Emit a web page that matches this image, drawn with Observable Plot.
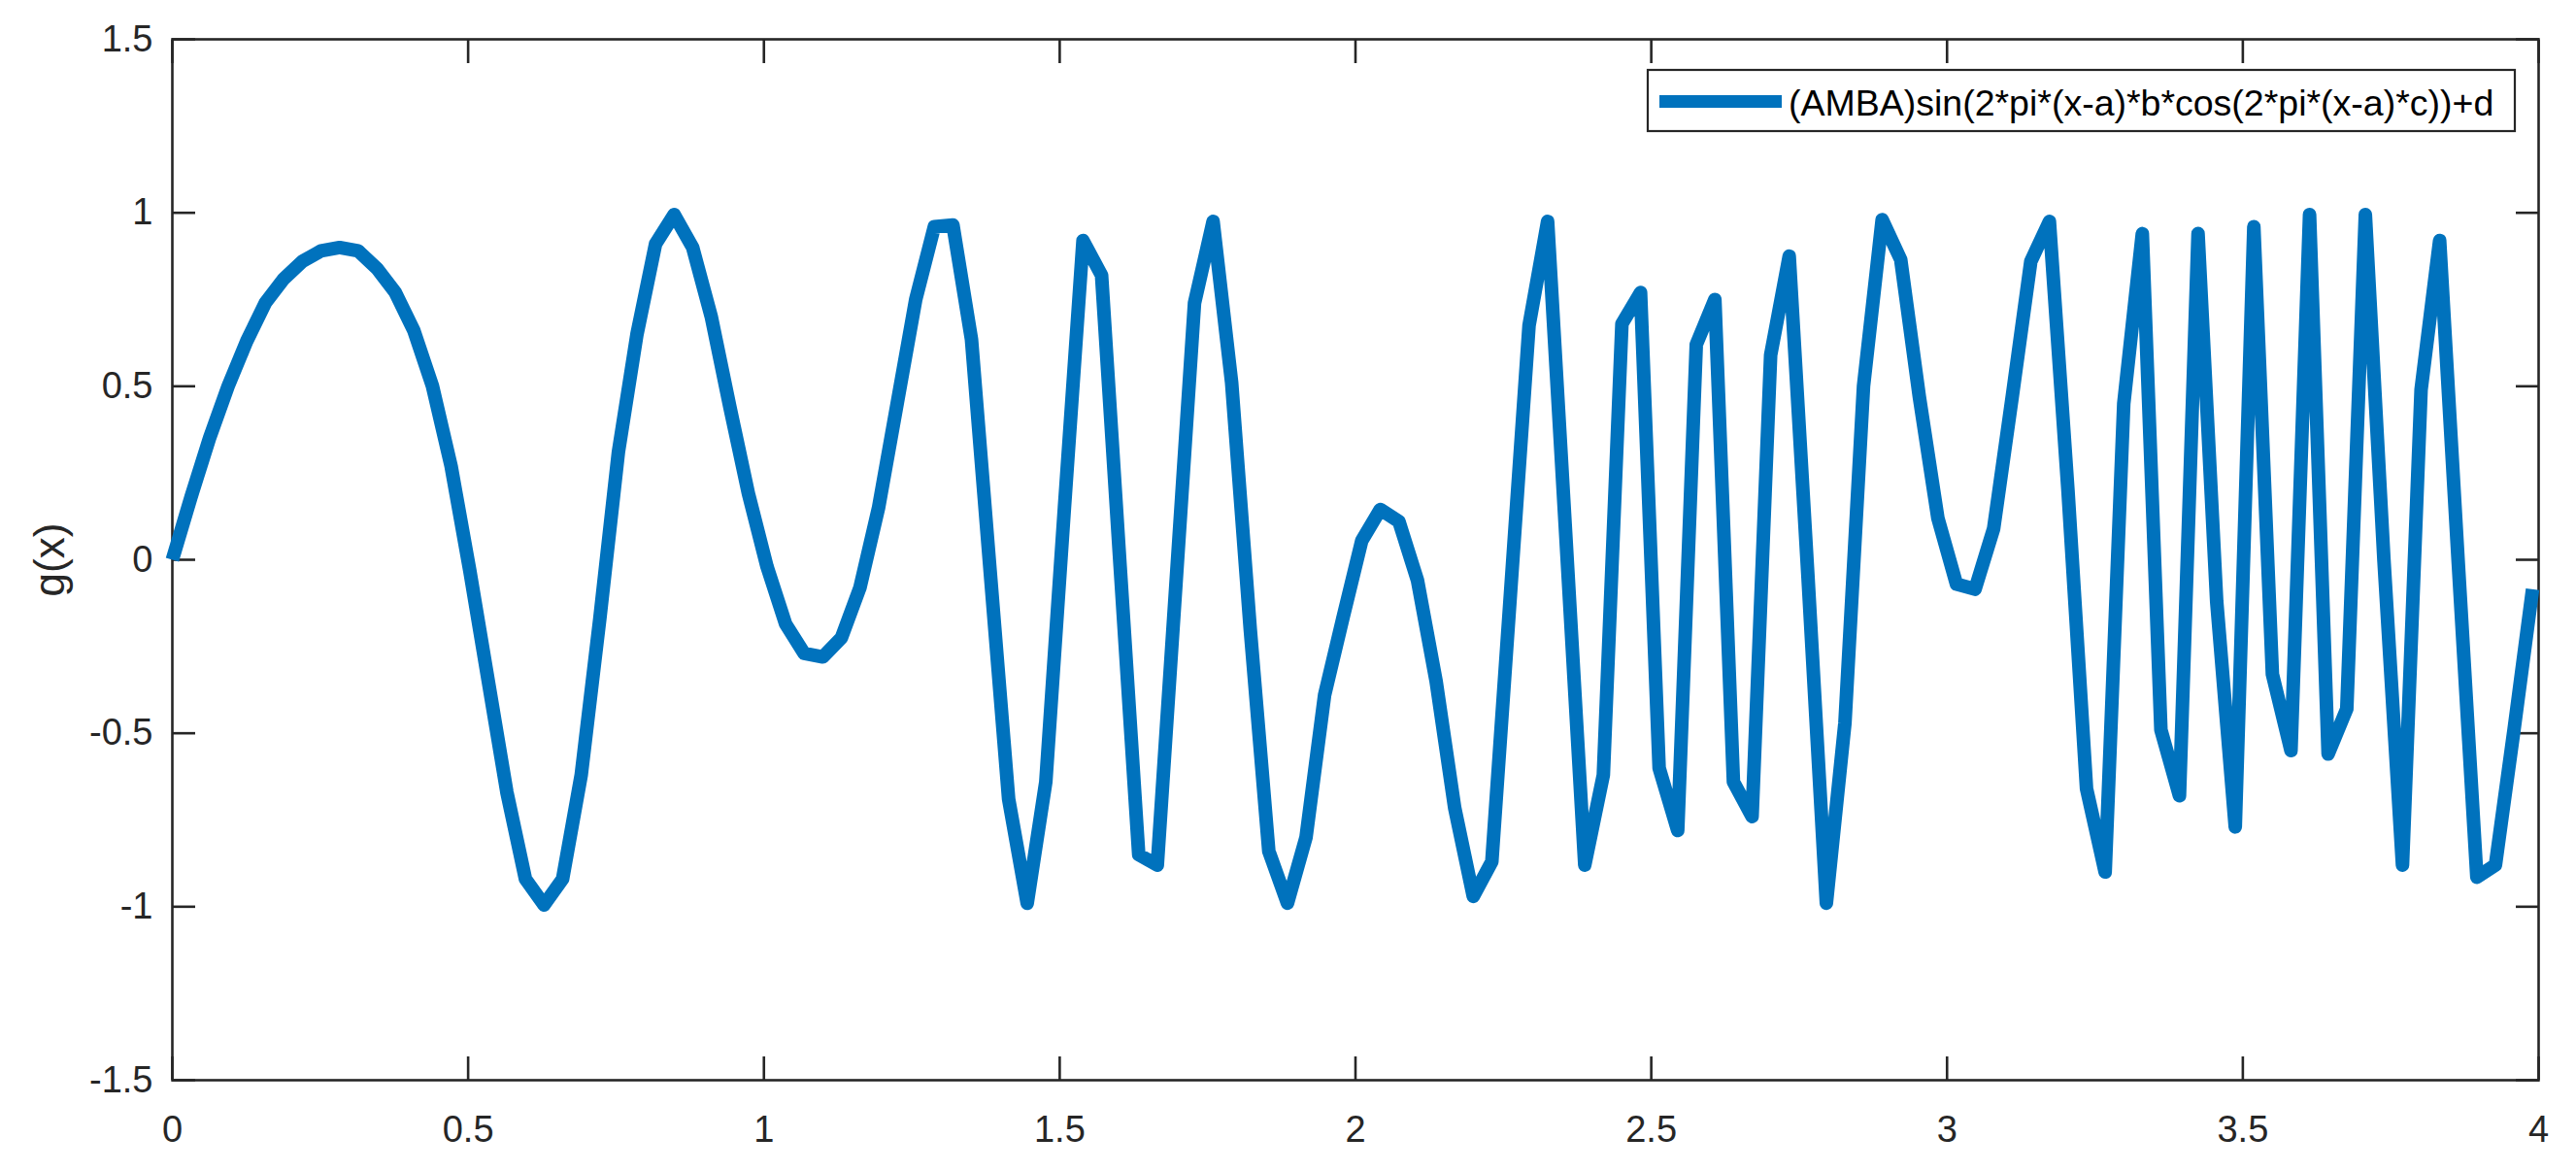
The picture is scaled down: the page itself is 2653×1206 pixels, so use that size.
<!DOCTYPE html>
<html>
<head>
<meta charset="utf-8">
<script src="https://cdn.jsdelivr.net/npm/d3@7"></script>
<script src="https://cdn.jsdelivr.net/npm/@observablehq/plot@0.6"></script>
<style>
  html, body { margin: 0; padding: 0; background: #ffffff; overflow: hidden; }
  #chart svg { display: block; }
</style>
</head>
<body>
<div id="chart"></div>
<script>
// sample positions (x)
const xs = [
  0, 0.0314, 0.0628, 0.0942, 0.1257, 0.1571, 0.1885, 0.2199, 0.2513, 0.2827,
  0.3142, 0.3456, 0.3770, 0.4084, 0.4398, 0.4712, 0.5027, 0.5341, 0.5655, 0.5969,
  0.6283, 0.6597, 0.6912, 0.7226, 0.7540, 0.7854, 0.8168, 0.8482, 0.8796, 0.9111,
  0.9425, 0.9739, 1.0053, 1.0367, 1.0681, 1.0996, 1.1310, 1.1624, 1.1938, 1.2252,
  1.2566, 1.2881, 1.3195, 1.3509, 1.3823, 1.4137, 1.4451, 1.4765, 1.5080, 1.5394,
  1.5708, 1.6022, 1.6336, 1.6650, 1.6965, 1.7279, 1.7593, 1.7907, 1.8221, 1.8535,
  1.8850, 1.9164, 1.9478, 1.9792, 2.0106, 2.0420, 2.0735, 2.1049, 2.1363, 2.1677,
  2.1991, 2.2305, 2.2619, 2.2934, 2.3248, 2.3562, 2.3876, 2.4190, 2.4504, 2.4819,
  2.5133, 2.5447, 2.5761, 2.6075, 2.6389, 2.6704, 2.7018, 2.7332, 2.7646, 2.7960,
  2.8274, 2.8588, 2.8903, 2.9217, 2.9531, 2.9845, 3.0159, 3.0473, 3.0788, 3.1102,
  3.1416, 3.1730, 3.2044, 3.2358, 3.2673, 3.2987, 3.3301, 3.3615, 3.3929, 3.4243,
  3.4558, 3.4872, 3.5186, 3.5500, 3.5814, 3.6128, 3.6442, 3.6757, 3.7071, 3.7385,
  3.7699, 3.8013, 3.8327, 3.8642, 3.8956, 3.9270, 3.9584, 3.9898
];

// g(x) values
const gx = [
  0, 0.18, 0.35, 0.50, 0.63, 0.74, 0.81, 0.86, 0.89, 0.90,
  0.89, 0.84, 0.77, 0.66, 0.50, 0.27, -0.03, -0.35, -0.67, -0.92,
  -0.995, -0.92, -0.62, -0.17, 0.31, 0.65, 0.91, 0.995, 0.90, 0.70,
  0.44, 0.19, -0.02, -0.185, -0.27, -0.28, -0.225, -0.08, 0.15, 0.45,
  0.75, 0.96, 0.965, 0.635, -0.03, -0.69, -0.99, -0.64, 0.15, 0.92,
  0.82, -0.02, -0.85, -0.88, -0.07, 0.74, 0.975, 0.51, -0.20, -0.84,
  -0.99, -0.80, -0.39, -0.165, 0.055, 0.145, 0.11, -0.06, -0.35, -0.715,
  -0.97, -0.87, -0.10, 0.675, 0.975, 0.05, -0.88, -0.62, 0.68, 0.77,
  -0.60, -0.78, 0.62, 0.75, -0.64, -0.74, 0.59, 0.875, -0.04, -0.99,
  -0.47, 0.50, 0.98, 0.865, 0.47, 0.12, -0.07, -0.085, 0.09, 0.47,
  0.86, 0.975, 0.20, -0.66, -0.90, 0.45, 0.94, -0.49, -0.68, 0.94,
  -0.12, -0.77, 0.96, -0.33, -0.55, 0.995, -0.56, -0.43, 0.995, 0.0,
  -0.88, 0.49, 0.92, -0.01, -0.915, -0.88, -0.49, -0.085
];

const xTicks = [0, 0.5, 1, 1.5, 2, 2.5, 3, 3.5, 4];
const xTickLabels = ["0", "0.5", "1", "1.5", "2", "2.5", "3", "3.5", "4"];
const yTicks = [-1.5, -1, -0.5, 0, 0.5, 1, 1.5];
const yTickLabels = ["-1.5", "-1", "-0.5", "0", "0.5", "1", "1.5"];

const yLabel = "g(x)";
const seriesName = "(AMBA)sin(2*pi*(x-a)*b*cos(2*pi*(x-a)*c))+d";

const data = xs.map((x, i) => ({x, y: gx[i]}));

const axisColor = "#262626";
const lineColor = "#0072BD";
const font = "'Liberation Sans', Arial, Helvetica, sans-serif";

const W = 2653, H = 1206;

const plot = Plot.plot({
  width: W,
  height: H,
  marginLeft: 177,
  marginRight: 39,
  marginTop: 40,
  marginBottom: 94,
  style: {fontFamily: font, background: "#ffffff", color: axisColor, overflow: "visible"},
  x: {domain: [0, 4], label: null},
  y: {domain: [-1.5, 1.5], label: null},
  marks: [
    Plot.frame({stroke: axisColor, strokeWidth: 2.6}),
    // inward ticks on all four sides
    Plot.axisX(xTicks, {anchor: "bottom", tickSize: -24, fill: "none", label: null, stroke: axisColor, strokeWidth: 2.6}),
    Plot.axisX(xTicks, {anchor: "top", tickSize: -24, fill: "none", label: null, stroke: axisColor, strokeWidth: 2.6}),
    Plot.axisY(yTicks, {anchor: "left", tickSize: -24, fill: "none", label: null, stroke: axisColor, strokeWidth: 2.6}),
    Plot.axisY(yTicks, {anchor: "right", tickSize: -24, fill: "none", label: null, stroke: axisColor, strokeWidth: 2.6}),
    // tick labels
    Plot.axisX(xTicks, {
      anchor: "bottom", tickSize: 0, tickPadding: 37, fontSize: 38, fill: axisColor, label: null,
      tickFormat: d => xTickLabels[xTicks.indexOf(d)]
    }),
    Plot.axisY(yTicks, {
      anchor: "left", tickSize: 0, tickPadding: 20, fontSize: 38, fill: axisColor, label: null,
      tickFormat: d => yTickLabels[yTicks.indexOf(d)]
    }),
    Plot.axisY({
      anchor: "left", tickSize: 0, fill: axisColor, stroke: "none", ticks: [],
      label: yLabel, labelAnchor: "center", labelOffset: 143, labelArrow: "none", fontSize: 44
    }),
    Plot.line(data, {
      x: "x", y: "y", stroke: lineColor, strokeWidth: 14,
      strokeLinejoin: "round", strokeLinecap: "butt", curve: "linear"
    })
  ]
});

document.getElementById("chart").appendChild(plot);

// legend box inside the axes (top right), as in the original
const svg = d3.select(plot);
const lg = svg.append("g").attr("class", "legend").attr("text-anchor", "start");
lg.append("rect")
  .attr("x", 1697).attr("y", 72).attr("width", 893).attr("height", 63)
  .attr("fill", "#ffffff").attr("stroke", axisColor).attr("stroke-width", 2.2);
lg.append("line")
  .attr("x1", 1709).attr("x2", 1835).attr("y1", 104.5).attr("y2", 104.5)
  .attr("stroke", lineColor).attr("stroke-width", 13);
lg.append("text")
  .attr("x", 1842).attr("y", 119)
  .attr("text-anchor", "start")
  .attr("font-family", font).attr("font-size", 37.5).attr("fill", "#000000")
  .text(seriesName);
</script>
</body>
</html>
